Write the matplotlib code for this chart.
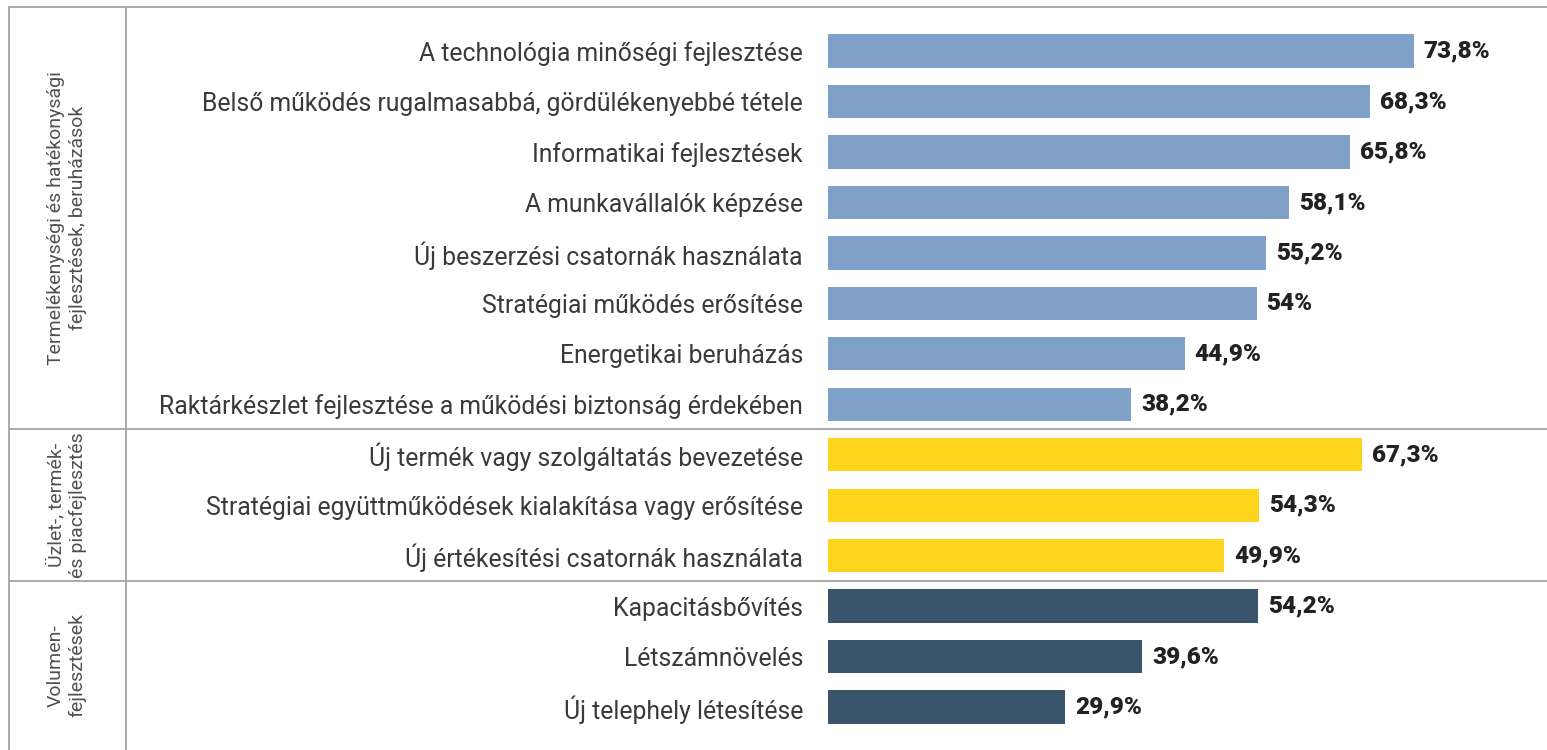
import matplotlib
matplotlib.use("Agg")
import matplotlib.pyplot as plt
from matplotlib.lines import Line2D
import matplotlib.transforms as mtrans

categories = [
    "A technológia minőségi fejlesztése",
    "Belső működés rugalmasabbá, gördülékenyebbé tétele",
    "Informatikai fejlesztések",
    "A munkavállalók képzése",
    "Új beszerzési csatornák használata",
    "Stratégiai működés erősítése",
    "Energetikai beruházás",
    "Raktárkészlet fejlesztése a működési biztonság érdekében",
    "Új termék vagy szolgáltatás bevezetése",
    "Stratégiai együttműködések kialakítása vagy erősítése",
    "Új értékesítési csatornák használata",
    "Kapacitásbővítés",
    "Létszámnövelés",
    "Új telephely létesítése",
]
values = [73.8, 68.3, 65.8, 58.1, 55.2, 54.0, 44.9, 38.2,
          67.3, 54.3, 49.9,
          54.2, 39.6, 29.9]
group_names = [
    "Termelékenységi és hatékonysági\nfejlesztések, beruházások",
    "Üzlet-, termék-\nés piacfejlesztés",
    "Volumen-\nfejlesztések",
]
group_sizes = [8, 3, 3]
group_colors = ["#7FA1C8", "#FDD51C", "#3A546C"]

W, H = 1547, 750
fig = plt.figure(figsize=(W / 100, H / 100), dpi=100)
ax = fig.add_axes([828 / W, 0, 1 - 828 / W, 1])

colors = []
for c, n in zip(group_colors, group_sizes):
    colors += [c] * n
ypos = list(range(len(categories)))
ax.barh(ypos, values, height=0.66, color=colors, zorder=2)
ax.set_xlim(0, (W - 828) / 7.94)
ax.set_ylim(13.852, -1.011)
ax.set_yticks(ypos)
ax.set_yticklabels(categories, fontsize=17.8, color="#3a3a3a", family=["Roboto", "DejaVu Sans"])
ax.tick_params(axis="y", length=0, pad=18)
ax.set_xticks([])
for s in ax.spines.values():
    s.set_visible(False)

for y, v in zip(ypos, values):
    ax.annotate(f"{v:g}".replace(".", ",") + "%", (v, y), xytext=(7, 0),
                textcoords="offset points", va="center", ha="left",
                fontsize=17.5, fontweight="heavy", color="#222222",
                family=["Roboto", "DejaVu Sans"])

# frame lines
line_c = "#AAAAAA"
blend = mtrans.blended_transform_factory(fig.transFigure, ax.transData)
top_y = -0.872
bottom_y = 13.852
x_left = 9 / W
x_div = 126 / W
bounds = [top_y]
acc = -0.5
for n in group_sizes:
    acc += n
    bounds.append(acc)
for b in bounds[:-1]:
    ax.add_line(Line2D([x_left, 1], [b, b], transform=blend, color=line_c, lw=1.4, clip_on=False))
for xv in (x_left, x_div):
    ax.add_line(Line2D([xv, xv], [top_y, bottom_y], transform=blend, color=line_c, lw=1.4, clip_on=False))

# group labels
gb = [top_y] + bounds[1:-1] + [bottom_y]
for i, name in enumerate(group_names):
    yc = (gb[i] + gb[i + 1]) / 2
    ax.text((x_left + x_div) / 2 - 0.5 / W, yc, name, transform=blend, rotation=90,
            ha="center", va="center", multialignment="center",
            fontsize=14, fontweight="normal", color="#505050", linespacing=1.25,
            family=["Roboto", "DejaVu Sans"])

fig.savefig("out.png", dpi=100)
